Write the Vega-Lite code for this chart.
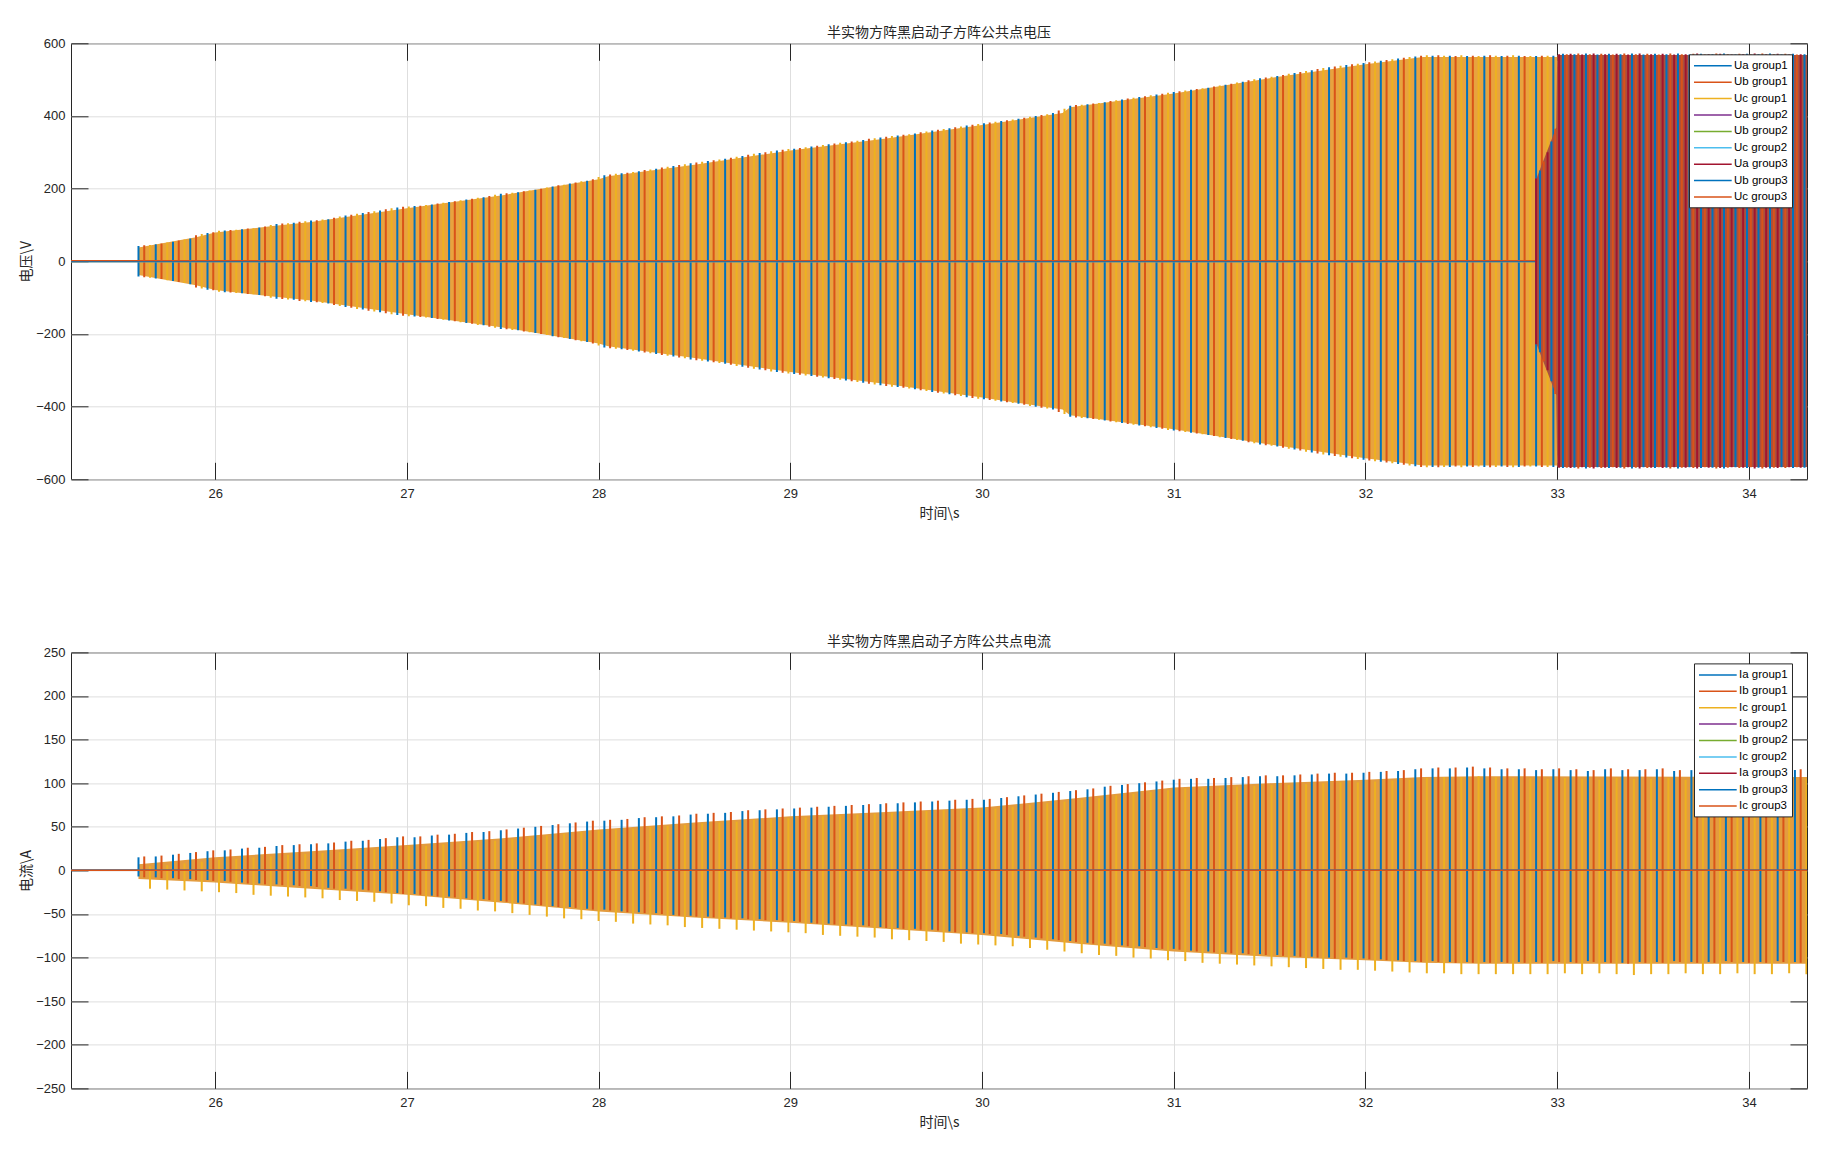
{
"$schema": "https://vega.github.io/schema/vega-lite/v6.json",
"background": "white",
"padding": {"left": 19, "top": 25.3, "right": 0, "bottom": 0},
"spacing": 113.1,
"resolve": {"scale": {"color": "independent"}, "legend": {"color": "independent"}},
"config": {
  "font": "Liberation Sans",
  "view": {"stroke": "#262626", "strokeWidth": 1},
  "axis": {"domain": false, "tickColor": "#262626", "tickSize": -17, "tickWidth": 1, "labelColor": "#262626", "labelFont": "Liberation Sans", "labelFontSize": 13, "gridColor": "#DEDEDE", "gridWidth": 1, "titleFont": "Noto Sans CJK SC", "titleFontSize": 14, "titleFontWeight": "normal", "titleColor": "#262626"},
  "axisX": {"labelPadding": 25, "titlePadding": 6},
  "axisY": {"labelPadding": 23, "titlePadding": 2},
  "title": {"font": "Noto Sans CJK SC", "fontSize": 14, "fontWeight": "normal", "color": "#262626", "offset": -3.0, "anchor": "middle"},
  "legend": {"title": null, "orient": "none", "symbolType": "M-2.9,0L2.9,0", "symbolSize": 169, "symbolOffset": 12.35, "symbolStrokeWidth": 1.5, "labelFont": "Liberation Sans", "labelFontSize": 11.5, "labelColor": "#000000", "labelOffset": 13.7, "strokeColor": "#262626", "fillColor": "#ffffff", "padding": 4, "rowPadding": 3.4}
},
"datasets": {
"venv": [{"t":25.6,"h":38,"l":-38},{"t":25.9,"h":66,"l":-66},{"t":26.0,"h":79,"l":-79},{"t":26.3,"h":97,"l":-97},{"t":26.5,"h":108,"l":-108},{"t":27.0,"h":146,"l":-146},{"t":27.5,"h":182,"l":-182},{"t":28.0,"h":226,"l":-226},{"t":28.05,"h":234,"l":-234},{"t":28.5,"h":266,"l":-266},{"t":29.0,"h":305,"l":-305},{"t":29.5,"h":338,"l":-338},{"t":30.0,"h":375,"l":-375},{"t":30.42,"h":408,"l":-408},{"t":30.46,"h":424,"l":-424},{"t":31.0,"h":462,"l":-462},{"t":31.5,"h":504,"l":-504},{"t":32.0,"h":542,"l":-542},{"t":32.3,"h":562,"l":-562},{"t":33.0,"h":562,"l":-562}],
"va": [{"t":25.6,"h":42,"l":-42},{"t":25.69,"h":47,"l":-47},{"t":25.78,"h":54,"l":-54},{"t":25.87,"h":63,"l":-63},{"t":25.96,"h":78,"l":-78},{"t":26.05,"h":85,"l":-85},{"t":26.14,"h":88,"l":-88},{"t":26.23,"h":93,"l":-93},{"t":26.32,"h":103,"l":-103},{"t":26.41,"h":106,"l":-106},{"t":26.5,"h":112,"l":-112},{"t":26.59,"h":116,"l":-116},{"t":26.68,"h":126,"l":-126},{"t":26.77,"h":133,"l":-133},{"t":26.86,"h":140,"l":-140},{"t":26.95,"h":148,"l":-148},{"t":27.04,"h":152,"l":-152},{"t":27.13,"h":156,"l":-156},{"t":27.22,"h":163,"l":-163},{"t":27.31,"h":170,"l":-170},{"t":27.4,"h":176,"l":-176},{"t":27.49,"h":186,"l":-186},{"t":27.58,"h":190,"l":-190},{"t":27.67,"h":197,"l":-197},{"t":27.76,"h":206,"l":-206},{"t":27.85,"h":214,"l":-214},{"t":27.94,"h":222,"l":-222},{"t":28.03,"h":237,"l":-237},{"t":28.12,"h":242,"l":-242},{"t":28.21,"h":248,"l":-248},{"t":28.3,"h":255,"l":-255},{"t":28.39,"h":262,"l":-262},{"t":28.48,"h":270,"l":-270},{"t":28.57,"h":276,"l":-276},{"t":28.66,"h":282,"l":-282},{"t":28.75,"h":290,"l":-290},{"t":28.84,"h":298,"l":-298},{"t":28.93,"h":305,"l":-305},{"t":29.02,"h":310,"l":-310},{"t":29.11,"h":316,"l":-316},{"t":29.2,"h":322,"l":-322},{"t":29.29,"h":328,"l":-328},{"t":29.38,"h":334,"l":-334},{"t":29.47,"h":341,"l":-341},{"t":29.56,"h":346,"l":-346},{"t":29.65,"h":352,"l":-352},{"t":29.74,"h":360,"l":-360},{"t":29.83,"h":366,"l":-366},{"t":29.92,"h":374,"l":-374},{"t":30.01,"h":380,"l":-380},{"t":30.1,"h":386,"l":-386},{"t":30.19,"h":392,"l":-392},{"t":30.28,"h":400,"l":-400},{"t":30.37,"h":408,"l":-408},{"t":30.46,"h":428,"l":-428},{"t":30.55,"h":432,"l":-432},{"t":30.64,"h":438,"l":-438},{"t":30.73,"h":445,"l":-445},{"t":30.82,"h":452,"l":-452},{"t":30.91,"h":459,"l":-459},{"t":31.0,"h":466,"l":-466},{"t":31.09,"h":472,"l":-472},{"t":31.18,"h":478,"l":-478},{"t":31.27,"h":486,"l":-486},{"t":31.36,"h":494,"l":-494},{"t":31.45,"h":504,"l":-504},{"t":31.54,"h":510,"l":-510},{"t":31.63,"h":518,"l":-518},{"t":31.72,"h":526,"l":-526},{"t":31.81,"h":534,"l":-534},{"t":31.9,"h":540,"l":-540},{"t":31.99,"h":546,"l":-546},{"t":32.08,"h":552,"l":-552},{"t":32.17,"h":558,"l":-558},{"t":32.26,"h":564,"l":-564},{"t":32.35,"h":566,"l":-566},{"t":32.44,"h":566,"l":-566},{"t":32.53,"h":565,"l":-565},{"t":32.62,"h":566,"l":-566},{"t":32.71,"h":565,"l":-565},{"t":32.8,"h":566,"l":-566},{"t":32.89,"h":565,"l":-565},{"t":32.98,"h":566,"l":-566}],
"vb": [{"t":25.63,"h":44,"l":-44},{"t":25.72,"h":49,"l":-49},{"t":25.81,"h":57,"l":-57},{"t":25.9,"h":72,"l":-72},{"t":25.99,"h":80,"l":-80},{"t":26.08,"h":86,"l":-86},{"t":26.17,"h":90,"l":-90},{"t":26.26,"h":96,"l":-96},{"t":26.35,"h":104,"l":-104},{"t":26.44,"h":109,"l":-109},{"t":26.53,"h":113,"l":-113},{"t":26.62,"h":120,"l":-120},{"t":26.71,"h":128,"l":-128},{"t":26.8,"h":136,"l":-136},{"t":26.89,"h":143,"l":-143},{"t":26.98,"h":150,"l":-150},{"t":27.07,"h":153,"l":-153},{"t":27.16,"h":159,"l":-159},{"t":27.25,"h":165,"l":-165},{"t":27.34,"h":172,"l":-172},{"t":27.43,"h":180,"l":-180},{"t":27.52,"h":187,"l":-187},{"t":27.61,"h":193,"l":-193},{"t":27.7,"h":200,"l":-200},{"t":27.79,"h":209,"l":-209},{"t":27.88,"h":217,"l":-217},{"t":27.97,"h":226,"l":-226},{"t":28.06,"h":239,"l":-239},{"t":28.15,"h":244,"l":-244},{"t":28.24,"h":251,"l":-251},{"t":28.33,"h":258,"l":-258},{"t":28.42,"h":265,"l":-265},{"t":28.51,"h":272,"l":-272},{"t":28.6,"h":278,"l":-278},{"t":28.69,"h":285,"l":-285},{"t":28.78,"h":293,"l":-293},{"t":28.87,"h":300,"l":-300},{"t":28.96,"h":307,"l":-307},{"t":29.05,"h":312,"l":-312},{"t":29.14,"h":318,"l":-318},{"t":29.23,"h":324,"l":-324},{"t":29.32,"h":330,"l":-330},{"t":29.41,"h":337,"l":-337},{"t":29.5,"h":343,"l":-343},{"t":29.59,"h":348,"l":-348},{"t":29.68,"h":355,"l":-355},{"t":29.77,"h":362,"l":-362},{"t":29.86,"h":369,"l":-369},{"t":29.95,"h":376,"l":-376},{"t":30.04,"h":382,"l":-382},{"t":30.13,"h":388,"l":-388},{"t":30.22,"h":395,"l":-395},{"t":30.31,"h":403,"l":-403},{"t":30.4,"h":415,"l":-415},{"t":30.49,"h":430,"l":-430},{"t":30.58,"h":434,"l":-434},{"t":30.67,"h":441,"l":-441},{"t":30.76,"h":448,"l":-448},{"t":30.85,"h":454,"l":-454},{"t":30.94,"h":461,"l":-461},{"t":31.03,"h":468,"l":-468},{"t":31.12,"h":474,"l":-474},{"t":31.21,"h":481,"l":-481},{"t":31.3,"h":489,"l":-489},{"t":31.39,"h":498,"l":-498},{"t":31.48,"h":506,"l":-506},{"t":31.57,"h":513,"l":-513},{"t":31.66,"h":521,"l":-521},{"t":31.75,"h":529,"l":-529},{"t":31.84,"h":536,"l":-536},{"t":31.93,"h":542,"l":-542},{"t":32.02,"h":548,"l":-548},{"t":32.11,"h":554,"l":-554},{"t":32.2,"h":560,"l":-560},{"t":32.29,"h":566,"l":-566},{"t":32.38,"h":567,"l":-567},{"t":32.47,"h":565,"l":-565},{"t":32.56,"h":566,"l":-566},{"t":32.65,"h":567,"l":-567},{"t":32.74,"h":566,"l":-566},{"t":32.83,"h":565,"l":-565},{"t":32.92,"h":566,"l":-566}],
"vc": [{"t":25.66,"h":45,"l":-45},{"t":25.75,"h":52,"l":-52},{"t":25.84,"h":60,"l":-60},{"t":25.93,"h":75,"l":-75},{"t":26.02,"h":84,"l":-84},{"t":26.11,"h":87,"l":-87},{"t":26.2,"h":91,"l":-91},{"t":26.29,"h":100,"l":-100},{"t":26.38,"h":105,"l":-105},{"t":26.47,"h":110,"l":-110},{"t":26.56,"h":115,"l":-115},{"t":26.65,"h":123,"l":-123},{"t":26.74,"h":131,"l":-131},{"t":26.83,"h":138,"l":-138},{"t":26.92,"h":146,"l":-146},{"t":27.01,"h":151,"l":-151},{"t":27.1,"h":155,"l":-155},{"t":27.19,"h":161,"l":-161},{"t":27.28,"h":168,"l":-168},{"t":27.37,"h":175,"l":-175},{"t":27.46,"h":183,"l":-183},{"t":27.55,"h":189,"l":-189},{"t":27.64,"h":195,"l":-195},{"t":27.73,"h":203,"l":-203},{"t":27.82,"h":211,"l":-211},{"t":27.91,"h":220,"l":-220},{"t":28.0,"h":232,"l":-232},{"t":28.09,"h":241,"l":-241},{"t":28.18,"h":246,"l":-246},{"t":28.27,"h":253,"l":-253},{"t":28.36,"h":260,"l":-260},{"t":28.45,"h":267,"l":-267},{"t":28.54,"h":274,"l":-274},{"t":28.63,"h":280,"l":-280},{"t":28.72,"h":288,"l":-288},{"t":28.81,"h":296,"l":-296},{"t":28.9,"h":303,"l":-303},{"t":28.99,"h":309,"l":-309},{"t":29.08,"h":314,"l":-314},{"t":29.17,"h":320,"l":-320},{"t":29.26,"h":326,"l":-326},{"t":29.35,"h":332,"l":-332},{"t":29.44,"h":339,"l":-339},{"t":29.53,"h":345,"l":-345},{"t":29.62,"h":350,"l":-350},{"t":29.71,"h":357,"l":-357},{"t":29.8,"h":364,"l":-364},{"t":29.89,"h":371,"l":-371},{"t":29.98,"h":378,"l":-378},{"t":30.07,"h":384,"l":-384},{"t":30.16,"h":390,"l":-390},{"t":30.25,"h":398,"l":-398},{"t":30.34,"h":405,"l":-405},{"t":30.43,"h":420,"l":-420},{"t":30.52,"h":431,"l":-431},{"t":30.61,"h":436,"l":-436},{"t":30.7,"h":443,"l":-443},{"t":30.79,"h":450,"l":-450},{"t":30.88,"h":457,"l":-457},{"t":30.97,"h":464,"l":-464},{"t":31.06,"h":470,"l":-470},{"t":31.15,"h":476,"l":-476},{"t":31.24,"h":484,"l":-484},{"t":31.33,"h":492,"l":-492},{"t":31.42,"h":501,"l":-501},{"t":31.51,"h":508,"l":-508},{"t":31.6,"h":516,"l":-516},{"t":31.69,"h":524,"l":-524},{"t":31.78,"h":532,"l":-532},{"t":31.87,"h":538,"l":-538},{"t":31.96,"h":544,"l":-544},{"t":32.05,"h":550,"l":-550},{"t":32.14,"h":556,"l":-556},{"t":32.23,"h":562,"l":-562},{"t":32.32,"h":567,"l":-567},{"t":32.41,"h":566,"l":-566},{"t":32.5,"h":567,"l":-567},{"t":32.59,"h":565,"l":-565},{"t":32.68,"h":566,"l":-566},{"t":32.77,"h":567,"l":-567},{"t":32.86,"h":565,"l":-565},{"t":32.95,"h":566,"l":-566}],
"wenv": [{"t":32.89,"h":225,"l":-225},{"t":32.995,"h":368,"l":-368},{"t":33.0,"h":568,"l":-566},{"t":34.303,"h":568,"l":-566}],
"wa": [{"t":32.89,"h":228,"l":-228},{"t":32.95,"h":300,"l":-300},{"t":33.01,"h":570,"l":-568},{"t":33.07,"h":571,"l":-569},{"t":33.13,"h":569,"l":-567},{"t":33.19,"h":572,"l":-570},{"t":33.25,"h":570,"l":-568},{"t":33.31,"h":571,"l":-569},{"t":33.37,"h":569,"l":-567},{"t":33.43,"h":572,"l":-570},{"t":33.49,"h":570,"l":-568},{"t":33.55,"h":571,"l":-569},{"t":33.61,"h":569,"l":-567},{"t":33.67,"h":570,"l":-568},{"t":33.73,"h":572,"l":-570},{"t":33.79,"h":570,"l":-568},{"t":33.85,"h":571,"l":-569},{"t":33.91,"h":569,"l":-567},{"t":33.97,"h":570,"l":-568},{"t":34.03,"h":572,"l":-570},{"t":34.09,"h":570,"l":-568},{"t":34.15,"h":571,"l":-569},{"t":34.21,"h":569,"l":-567},{"t":34.27,"h":570,"l":-568}],
"wb": [{"t":32.91,"h":250,"l":-250},{"t":32.97,"h":330,"l":-330},{"t":33.03,"h":571,"l":-569},{"t":33.09,"h":570,"l":-568},{"t":33.15,"h":572,"l":-570},{"t":33.21,"h":569,"l":-567},{"t":33.27,"h":571,"l":-569},{"t":33.33,"h":570,"l":-568},{"t":33.39,"h":572,"l":-570},{"t":33.45,"h":569,"l":-567},{"t":33.51,"h":571,"l":-569},{"t":33.57,"h":570,"l":-568},{"t":33.63,"h":572,"l":-570},{"t":33.69,"h":569,"l":-567},{"t":33.75,"h":571,"l":-569},{"t":33.81,"h":570,"l":-568},{"t":33.87,"h":572,"l":-570},{"t":33.93,"h":569,"l":-567},{"t":33.99,"h":571,"l":-569},{"t":34.05,"h":570,"l":-568},{"t":34.11,"h":572,"l":-570},{"t":34.17,"h":569,"l":-567},{"t":34.23,"h":571,"l":-569},{"t":34.29,"h":570,"l":-568}],
"wc": [{"t":32.93,"h":275,"l":-275},{"t":32.99,"h":365,"l":-365},{"t":33.05,"h":570,"l":-568},{"t":33.11,"h":572,"l":-570},{"t":33.17,"h":570,"l":-568},{"t":33.23,"h":571,"l":-569},{"t":33.29,"h":569,"l":-567},{"t":33.35,"h":572,"l":-570},{"t":33.41,"h":570,"l":-568},{"t":33.47,"h":571,"l":-569},{"t":33.53,"h":569,"l":-567},{"t":33.59,"h":572,"l":-570},{"t":33.65,"h":570,"l":-568},{"t":33.71,"h":571,"l":-569},{"t":33.77,"h":569,"l":-567},{"t":33.83,"h":572,"l":-570},{"t":33.89,"h":570,"l":-568},{"t":33.95,"h":571,"l":-569},{"t":34.01,"h":569,"l":-567},{"t":34.07,"h":572,"l":-570},{"t":34.13,"h":570,"l":-568},{"t":34.19,"h":571,"l":-569},{"t":34.25,"h":569,"l":-567}],
"vz": [{"s":"Ua group1","t":25.248,"h":0},{"s":"Ua group1","t":25.6,"h":0},{"s":"Ub group1","t":25.248,"h":0},{"s":"Ub group1","t":25.6,"h":0},{"s":"Uc group1","t":25.248,"h":0},{"s":"Uc group1","t":25.6,"h":0},{"s":"Ua group2","t":25.248,"h":-1},{"s":"Ua group2","t":34.303,"h":-1},{"s":"Ub group2","t":25.248,"h":-1},{"s":"Ub group2","t":34.303,"h":-1},{"s":"Uc group2","t":25.248,"h":-1},{"s":"Uc group2","t":34.303,"h":-1},{"s":"Ua group3","t":25.248,"h":2},{"s":"Ua group3","t":32.89,"h":2},{"s":"Ub group3","t":25.248,"h":0},{"s":"Ub group3","t":32.89,"h":0},{"s":"Uc group3","t":25.248,"h":2},{"s":"Uc group3","t":32.89,"h":2}],
"ienv": [{"t":25.6,"h":7,"l":-10},{"t":26.0,"h":15,"l":-14},{"t":26.5,"h":22,"l":-21},{"t":27.0,"h":29,"l":-28},{"t":27.5,"h":37,"l":-37},{"t":28.0,"h":47,"l":-47},{"t":28.5,"h":55,"l":-54},{"t":29.0,"h":62,"l":-60},{"t":29.5,"h":67,"l":-67},{"t":30.0,"h":72,"l":-74},{"t":30.5,"h":83,"l":-84},{"t":31.0,"h":95,"l":-93},{"t":31.5,"h":100,"l":-99},{"t":32.0,"h":104,"l":-103},{"t":32.3,"h":107,"l":-106},{"t":32.6,"h":108,"l":-107},{"t":34.303,"h":107,"l":-107}],
"ia": [{"t":25.6,"h":15,"l":-7},{"t":25.69,"h":16,"l":-8},{"t":25.78,"h":18,"l":-9},{"t":25.87,"h":20,"l":-10},{"t":25.96,"h":22,"l":-11},{"t":26.05,"h":23,"l":-12},{"t":26.14,"h":25,"l":-14},{"t":26.23,"h":26,"l":-15},{"t":26.32,"h":28,"l":-16},{"t":26.41,"h":29,"l":-17},{"t":26.5,"h":30,"l":-18},{"t":26.59,"h":31,"l":-20},{"t":26.68,"h":33,"l":-21},{"t":26.77,"h":34,"l":-22},{"t":26.86,"h":36,"l":-24},{"t":26.95,"h":38,"l":-26},{"t":27.04,"h":38,"l":-27},{"t":27.13,"h":40,"l":-29},{"t":27.22,"h":41,"l":-30},{"t":27.31,"h":43,"l":-32},{"t":27.4,"h":44,"l":-33},{"t":27.49,"h":46,"l":-35},{"t":27.58,"h":48,"l":-37},{"t":27.67,"h":50,"l":-39},{"t":27.76,"h":52,"l":-41},{"t":27.85,"h":54,"l":-42},{"t":27.94,"h":56,"l":-44},{"t":28.03,"h":57,"l":-45},{"t":28.12,"h":58,"l":-47},{"t":28.21,"h":60,"l":-48},{"t":28.3,"h":61,"l":-49},{"t":28.39,"h":62,"l":-51},{"t":28.48,"h":64,"l":-52},{"t":28.57,"h":65,"l":-53},{"t":28.66,"h":66,"l":-54},{"t":28.75,"h":68,"l":-55},{"t":28.84,"h":69,"l":-56},{"t":28.93,"h":70,"l":-57},{"t":29.02,"h":71,"l":-58},{"t":29.11,"h":72,"l":-60},{"t":29.2,"h":73,"l":-61},{"t":29.29,"h":74,"l":-62},{"t":29.38,"h":75,"l":-63},{"t":29.47,"h":76,"l":-65},{"t":29.56,"h":77,"l":-66},{"t":29.65,"h":78,"l":-67},{"t":29.74,"h":79,"l":-68},{"t":29.83,"h":80,"l":-70},{"t":29.92,"h":81,"l":-71},{"t":30.01,"h":81,"l":-72},{"t":30.1,"h":83,"l":-73},{"t":30.19,"h":85,"l":-75},{"t":30.28,"h":87,"l":-77},{"t":30.37,"h":89,"l":-79},{"t":30.46,"h":91,"l":-81},{"t":30.55,"h":93,"l":-83},{"t":30.64,"h":96,"l":-84},{"t":30.73,"h":98,"l":-86},{"t":30.82,"h":100,"l":-87},{"t":30.91,"h":102,"l":-89},{"t":31.0,"h":104,"l":-90},{"t":31.09,"h":105,"l":-92},{"t":31.18,"h":105,"l":-93},{"t":31.27,"h":106,"l":-94},{"t":31.36,"h":107,"l":-95},{"t":31.45,"h":108,"l":-96},{"t":31.54,"h":108,"l":-97},{"t":31.63,"h":109,"l":-98},{"t":31.72,"h":110,"l":-99},{"t":31.81,"h":111,"l":-100},{"t":31.9,"h":111,"l":-100},{"t":31.99,"h":112,"l":-101},{"t":32.08,"h":113,"l":-102},{"t":32.17,"h":114,"l":-103},{"t":32.26,"h":116,"l":-104},{"t":32.35,"h":117,"l":-104},{"t":32.44,"h":117,"l":-105},{"t":32.53,"h":118,"l":-105},{"t":32.62,"h":117,"l":-105},{"t":32.71,"h":116,"l":-105},{"t":32.8,"h":116,"l":-105},{"t":32.89,"h":115,"l":-105},{"t":32.98,"h":116,"l":-104},{"t":33.07,"h":115,"l":-105},{"t":33.16,"h":114,"l":-104},{"t":33.25,"h":116,"l":-105},{"t":33.34,"h":115,"l":-106},{"t":33.43,"h":115,"l":-105},{"t":33.52,"h":116,"l":-105},{"t":33.61,"h":114,"l":-104},{"t":33.7,"h":115,"l":-105},{"t":33.79,"h":116,"l":-105},{"t":33.88,"h":115,"l":-104},{"t":33.97,"h":114,"l":-105},{"t":34.06,"h":115,"l":-105},{"t":34.15,"h":116,"l":-104},{"t":34.24,"h":115,"l":-105}],
"ib": [{"t":25.63,"h":16,"l":-8},{"t":25.72,"h":17,"l":-9},{"t":25.81,"h":19,"l":-10},{"t":25.9,"h":21,"l":-11},{"t":25.99,"h":23,"l":-12},{"t":26.08,"h":24,"l":-13},{"t":26.17,"h":26,"l":-15},{"t":26.26,"h":27,"l":-16},{"t":26.35,"h":29,"l":-17},{"t":26.44,"h":30,"l":-18},{"t":26.53,"h":31,"l":-19},{"t":26.62,"h":32,"l":-21},{"t":26.71,"h":34,"l":-22},{"t":26.8,"h":35,"l":-23},{"t":26.89,"h":37,"l":-25},{"t":26.98,"h":39,"l":-27},{"t":27.07,"h":39,"l":-28},{"t":27.16,"h":41,"l":-30},{"t":27.25,"h":42,"l":-31},{"t":27.34,"h":44,"l":-33},{"t":27.43,"h":45,"l":-34},{"t":27.52,"h":47,"l":-36},{"t":27.61,"h":49,"l":-38},{"t":27.7,"h":51,"l":-40},{"t":27.79,"h":53,"l":-42},{"t":27.88,"h":55,"l":-43},{"t":27.97,"h":57,"l":-45},{"t":28.06,"h":58,"l":-46},{"t":28.15,"h":59,"l":-48},{"t":28.24,"h":61,"l":-49},{"t":28.33,"h":62,"l":-50},{"t":28.42,"h":63,"l":-52},{"t":28.51,"h":65,"l":-53},{"t":28.6,"h":66,"l":-54},{"t":28.69,"h":67,"l":-55},{"t":28.78,"h":69,"l":-56},{"t":28.87,"h":70,"l":-57},{"t":28.96,"h":71,"l":-58},{"t":29.05,"h":72,"l":-59},{"t":29.14,"h":73,"l":-61},{"t":29.23,"h":74,"l":-62},{"t":29.32,"h":75,"l":-63},{"t":29.41,"h":76,"l":-64},{"t":29.5,"h":77,"l":-66},{"t":29.59,"h":78,"l":-67},{"t":29.68,"h":79,"l":-68},{"t":29.77,"h":80,"l":-69},{"t":29.86,"h":81,"l":-71},{"t":29.95,"h":82,"l":-72},{"t":30.04,"h":82,"l":-73},{"t":30.13,"h":84,"l":-74},{"t":30.22,"h":86,"l":-76},{"t":30.31,"h":88,"l":-78},{"t":30.4,"h":90,"l":-80},{"t":30.49,"h":92,"l":-82},{"t":30.58,"h":94,"l":-84},{"t":30.67,"h":97,"l":-85},{"t":30.76,"h":99,"l":-87},{"t":30.85,"h":101,"l":-88},{"t":30.94,"h":103,"l":-90},{"t":31.03,"h":105,"l":-91},{"t":31.12,"h":106,"l":-93},{"t":31.21,"h":106,"l":-94},{"t":31.3,"h":107,"l":-95},{"t":31.39,"h":108,"l":-96},{"t":31.48,"h":109,"l":-97},{"t":31.57,"h":109,"l":-98},{"t":31.66,"h":110,"l":-99},{"t":31.75,"h":111,"l":-100},{"t":31.84,"h":112,"l":-101},{"t":31.93,"h":112,"l":-101},{"t":32.02,"h":113,"l":-102},{"t":32.11,"h":114,"l":-103},{"t":32.2,"h":115,"l":-104},{"t":32.29,"h":117,"l":-105},{"t":32.38,"h":118,"l":-105},{"t":32.47,"h":118,"l":-106},{"t":32.56,"h":119,"l":-106},{"t":32.65,"h":118,"l":-106},{"t":32.74,"h":117,"l":-106},{"t":32.83,"h":117,"l":-106},{"t":32.92,"h":116,"l":-106},{"t":33.01,"h":117,"l":-105},{"t":33.1,"h":116,"l":-106},{"t":33.19,"h":115,"l":-105},{"t":33.28,"h":117,"l":-106},{"t":33.37,"h":116,"l":-107},{"t":33.46,"h":116,"l":-106},{"t":33.55,"h":117,"l":-106},{"t":33.64,"h":115,"l":-105},{"t":33.73,"h":116,"l":-106},{"t":33.82,"h":117,"l":-106},{"t":33.91,"h":116,"l":-105},{"t":34.0,"h":115,"l":-106},{"t":34.09,"h":116,"l":-106},{"t":34.18,"h":117,"l":-105},{"t":34.27,"h":116,"l":-106}],
"ic": [{"t":25.66,"h":5,"l":-21},{"t":25.75,"h":6,"l":-22},{"t":25.84,"h":8,"l":-23},{"t":25.93,"h":10,"l":-24},{"t":26.02,"h":12,"l":-25},{"t":26.11,"h":13,"l":-26},{"t":26.2,"h":15,"l":-28},{"t":26.29,"h":16,"l":-29},{"t":26.38,"h":18,"l":-30},{"t":26.47,"h":19,"l":-31},{"t":26.56,"h":20,"l":-32},{"t":26.65,"h":21,"l":-34},{"t":26.74,"h":23,"l":-35},{"t":26.83,"h":24,"l":-36},{"t":26.92,"h":26,"l":-38},{"t":27.01,"h":28,"l":-40},{"t":27.1,"h":28,"l":-41},{"t":27.19,"h":30,"l":-43},{"t":27.28,"h":31,"l":-44},{"t":27.37,"h":33,"l":-46},{"t":27.46,"h":34,"l":-47},{"t":27.55,"h":36,"l":-49},{"t":27.64,"h":38,"l":-51},{"t":27.73,"h":40,"l":-53},{"t":27.82,"h":42,"l":-55},{"t":27.91,"h":44,"l":-56},{"t":28.0,"h":46,"l":-58},{"t":28.09,"h":47,"l":-59},{"t":28.18,"h":48,"l":-61},{"t":28.27,"h":50,"l":-62},{"t":28.36,"h":51,"l":-63},{"t":28.45,"h":52,"l":-65},{"t":28.54,"h":54,"l":-66},{"t":28.63,"h":55,"l":-67},{"t":28.72,"h":56,"l":-68},{"t":28.81,"h":58,"l":-69},{"t":28.9,"h":59,"l":-70},{"t":28.99,"h":60,"l":-71},{"t":29.08,"h":61,"l":-72},{"t":29.17,"h":62,"l":-74},{"t":29.26,"h":63,"l":-75},{"t":29.35,"h":64,"l":-76},{"t":29.44,"h":65,"l":-77},{"t":29.53,"h":66,"l":-79},{"t":29.62,"h":67,"l":-80},{"t":29.71,"h":68,"l":-81},{"t":29.8,"h":69,"l":-82},{"t":29.89,"h":70,"l":-84},{"t":29.98,"h":71,"l":-85},{"t":30.07,"h":71,"l":-86},{"t":30.16,"h":73,"l":-87},{"t":30.25,"h":75,"l":-89},{"t":30.34,"h":77,"l":-91},{"t":30.43,"h":79,"l":-93},{"t":30.52,"h":81,"l":-95},{"t":30.61,"h":83,"l":-97},{"t":30.7,"h":86,"l":-98},{"t":30.79,"h":88,"l":-100},{"t":30.88,"h":90,"l":-101},{"t":30.97,"h":92,"l":-103},{"t":31.06,"h":94,"l":-104},{"t":31.15,"h":95,"l":-106},{"t":31.24,"h":95,"l":-107},{"t":31.33,"h":96,"l":-108},{"t":31.42,"h":97,"l":-109},{"t":31.51,"h":98,"l":-110},{"t":31.6,"h":98,"l":-111},{"t":31.69,"h":99,"l":-112},{"t":31.78,"h":100,"l":-113},{"t":31.87,"h":101,"l":-114},{"t":31.96,"h":101,"l":-114},{"t":32.05,"h":102,"l":-115},{"t":32.14,"h":103,"l":-116},{"t":32.23,"h":104,"l":-117},{"t":32.32,"h":106,"l":-118},{"t":32.41,"h":107,"l":-118},{"t":32.5,"h":107,"l":-119},{"t":32.59,"h":108,"l":-119},{"t":32.68,"h":107,"l":-119},{"t":32.77,"h":106,"l":-119},{"t":32.86,"h":106,"l":-119},{"t":32.95,"h":105,"l":-119},{"t":33.04,"h":106,"l":-118},{"t":33.13,"h":105,"l":-119},{"t":33.22,"h":104,"l":-118},{"t":33.31,"h":106,"l":-119},{"t":33.4,"h":105,"l":-120},{"t":33.49,"h":105,"l":-119},{"t":33.58,"h":106,"l":-119},{"t":33.67,"h":104,"l":-118},{"t":33.76,"h":105,"l":-119},{"t":33.85,"h":106,"l":-119},{"t":33.94,"h":105,"l":-118},{"t":34.03,"h":104,"l":-119},{"t":34.12,"h":105,"l":-119},{"t":34.21,"h":106,"l":-118},{"t":34.3,"h":105,"l":-119}],
"iz": [{"s":"Ia group1","t":25.248,"h":0},{"s":"Ia group1","t":25.6,"h":0},{"s":"Ib group1","t":25.248,"h":0},{"s":"Ib group1","t":25.6,"h":0},{"s":"Ic group1","t":25.248,"h":0},{"s":"Ic group1","t":25.6,"h":0},{"s":"Ia group2","t":25.248,"h":0},{"s":"Ia group2","t":34.303,"h":0},{"s":"Ib group2","t":25.248,"h":0},{"s":"Ib group2","t":34.303,"h":0},{"s":"Ic group2","t":25.248,"h":0},{"s":"Ic group2","t":34.303,"h":0},{"s":"Ia group3","t":25.248,"h":0},{"s":"Ia group3","t":34.303,"h":0},{"s":"Ib group3","t":25.248,"h":0},{"s":"Ib group3","t":34.303,"h":0},{"s":"Ic group3","t":25.248,"h":0},{"s":"Ic group3","t":34.303,"h":0}]
},
"vconcat": [
{
  "title": "半实物方阵黑启动子方阵公共点电压",
  "width": 1736, "height": 436,
  "encoding": {
    "x": {"field": "t", "type": "quantitative", "scale": {"domain": [25.248, 34.303], "nice": false, "zero": false}, "axis": null},
    "y": {"field": "h", "type": "quantitative", "scale": {"domain": [-600, 600], "nice": false}, "axis": null}
  },
  "layer": [
    {"data": {"name": "venv"}, "mark": {"type": "area", "color": "#E8A33E", "clip": true},
     "encoding": {
       "x": {"field": "t", "type": "quantitative", "scale": {"domain": [25.248, 34.303], "nice": false, "zero": false}, "axis": {"orient": "bottom", "values": [26,27,28,29,30,31,32,33,34], "title": "时间\\s", "grid": true}},
       "y": {"field": "h", "type": "quantitative", "scale": {"domain": [-600, 600], "nice": false}, "axis": {"orient": "left", "values": [-600,-400,-200,0,200,400,600], "title": "电压\\V", "grid": true}},
       "y2": {"field": "l"}}},
    {"data": {"name": "va"}, "mark": {"type": "rule", "color": "#0072BD", "strokeWidth": 2, "clip": true},
     "encoding": {
       "x": {"field": "t", "type": "quantitative", "scale": {"domain": [25.248, 34.303], "nice": false, "zero": false}, "axis": {"orient": "top", "values": [26,27,28,29,30,31,32,33,34], "labels": false, "grid": false, "title": null}},
       "y": {"field": "h", "type": "quantitative", "scale": {"domain": [-600, 600], "nice": false}, "axis": {"orient": "right", "values": [-600,-400,-200,0,200,400,600], "labels": false, "grid": false, "title": null}},
       "y2": {"field": "l"}}},
    {"data": {"name": "vb"}, "mark": {"type": "rule", "color": "#D95319", "strokeWidth": 2, "clip": true}, "encoding": {"y2": {"field": "l"}}},
    {"data": {"name": "vc"}, "mark": {"type": "rule", "color": "#EDB120", "strokeWidth": 2, "clip": true}, "encoding": {"y2": {"field": "l"}}},
    {"data": {"name": "vz"}, "mark": {"type": "line", "strokeWidth": 1.2, "clip": true},
     "encoding": {"color": {"field": "s", "type": "nominal",
        "scale": {"domain": ["Ua group1","Ub group1","Uc group1","Ua group2","Ub group2","Uc group2","Ua group3","Ub group3","Uc group3"], "range": ["#0072BD","#D95319","#EDB120","#7E2F8E","#77AC30","#4DBEEE","#A2142F","#0072BD","#D95319"]},
        "legend": {"legendX": 1618, "legendY": 11}}}},
    {"data": {"name": "wenv"}, "mark": {"type": "area", "color": "#A9503F", "clip": true}, "encoding": {"y2": {"field": "l"}}},
    {"data": {"name": "wa"}, "mark": {"type": "rule", "color": "#A2142F", "strokeWidth": 2, "clip": true}, "encoding": {"y2": {"field": "l"}}},
    {"data": {"name": "wb"}, "mark": {"type": "rule", "color": "#0072BD", "strokeWidth": 2, "clip": true}, "encoding": {"y2": {"field": "l"}}},
    {"data": {"name": "wc"}, "mark": {"type": "rule", "color": "#D95319", "strokeWidth": 2, "clip": true}, "encoding": {"y2": {"field": "l"}}}
  ]
},
{
  "title": "半实物方阵黑启动子方阵公共点电流",
  "width": 1736, "height": 436,
  "encoding": {
    "x": {"field": "t", "type": "quantitative", "scale": {"domain": [25.248, 34.303], "nice": false, "zero": false}, "axis": null},
    "y": {"field": "h", "type": "quantitative", "scale": {"domain": [-250, 250], "nice": false}, "axis": null}
  },
  "layer": [
    {"data": {"name": "ienv"}, "mark": {"type": "area", "color": "#E39C3F", "clip": true},
     "encoding": {
       "x": {"field": "t", "type": "quantitative", "scale": {"domain": [25.248, 34.303], "nice": false, "zero": false}, "axis": {"orient": "bottom", "values": [26,27,28,29,30,31,32,33,34], "title": "时间\\s", "grid": true}},
       "y": {"field": "h", "type": "quantitative", "scale": {"domain": [-250, 250], "nice": false}, "axis": {"orient": "left", "values": [-250,-200,-150,-100,-50,0,50,100,150,200,250], "title": "电流\\A", "grid": true}},
       "y2": {"field": "l"}}},
    {"data": {"name": "ia"}, "mark": {"type": "rule", "color": "#0072BD", "strokeWidth": 2, "clip": true},
     "encoding": {
       "x": {"field": "t", "type": "quantitative", "scale": {"domain": [25.248, 34.303], "nice": false, "zero": false}, "axis": {"orient": "top", "values": [26,27,28,29,30,31,32,33,34], "labels": false, "grid": false, "title": null}},
       "y": {"field": "h", "type": "quantitative", "scale": {"domain": [-250, 250], "nice": false}, "axis": {"orient": "right", "values": [-250,-200,-150,-100,-50,0,50,100,150,200,250], "labels": false, "grid": false, "title": null}},
       "y2": {"field": "l"}}},
    {"data": {"name": "ib"}, "mark": {"type": "rule", "color": "#D95319", "strokeWidth": 2, "clip": true}, "encoding": {"y2": {"field": "l"}}},
    {"data": {"name": "ic"}, "mark": {"type": "rule", "color": "#EDB120", "strokeWidth": 2, "clip": true}, "encoding": {"y2": {"field": "l"}}},
    {"data": {"name": "iz"}, "mark": {"type": "line", "strokeWidth": 1.2, "clip": true},
     "encoding": {"color": {"field": "s", "type": "nominal",
        "scale": {"domain": ["Ia group1","Ib group1","Ic group1","Ia group2","Ib group2","Ic group2","Ia group3","Ib group3","Ic group3"], "range": ["#0072BD","#D95319","#EDB120","#7E2F8E","#77AC30","#4DBEEE","#A2142F","#0072BD","#D95319"]},
        "legend": {"legendX": 1623, "legendY": 11}}}}
  ]
}
]
}
